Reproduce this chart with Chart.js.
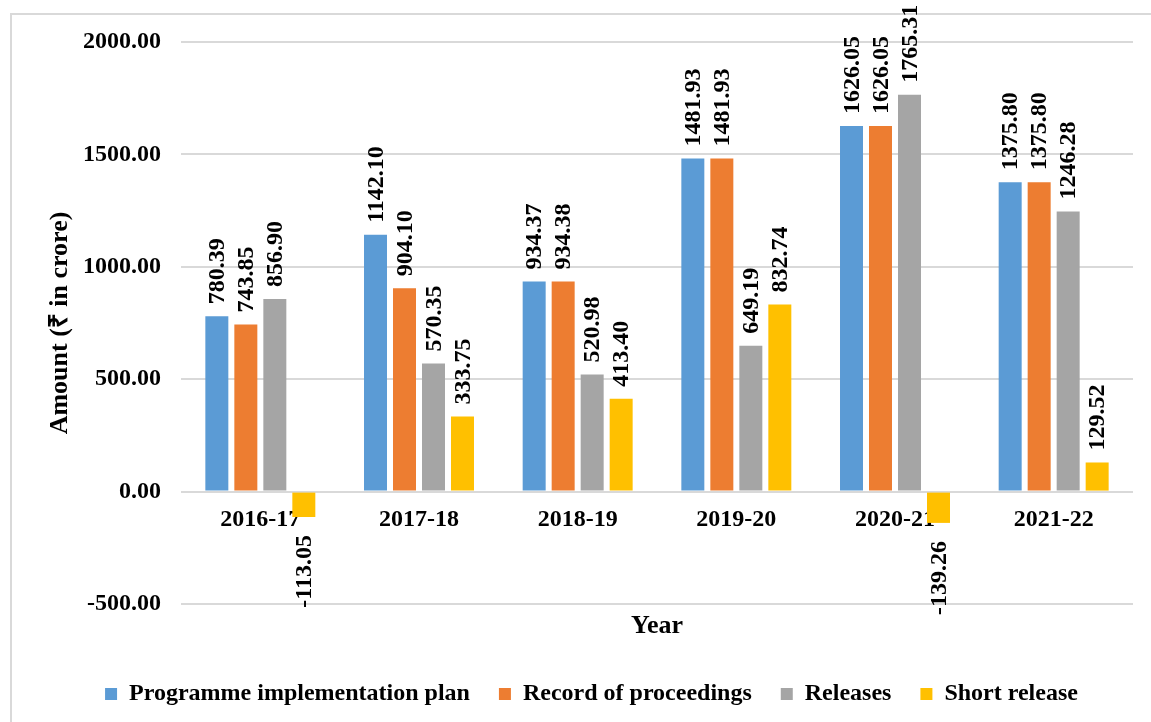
<!DOCTYPE html>
<html>
<head>
<meta charset="utf-8">
<script src="https://cdn.jsdelivr.net/npm/chart.js@4.4.1/dist/chart.umd.min.js"></script>
<style>
    html, body { margin: 0; padding: 0; background: #fff; overflow: hidden; }
    #wrap { position: relative; width: 1151px; height: 722px; overflow: hidden; }
    #frame { position: absolute; left: 10px; top: 13px; width: 1300px; height: 900px; border: 2px solid #d9d9d9; box-sizing: border-box; }
    #chart { position: absolute; left: 0; top: 0; }
</style>
</head>
<body>
<div id="wrap">
    <div id="frame"></div>
    <canvas id="chart" width="1151" height="722"></canvas>
</div>
<script>
// ========== DATA ==========
const years = ['2016-17', '2017-18', '2018-19', '2019-20', '2020-21', '2021-22'];
const implementationPlan = [780.39, 1142.10, 934.37, 1481.93, 1626.05, 1375.80];
const recordOfProceedings = [743.85, 904.10, 934.38, 1481.93, 1626.05, 1375.80];
const releases = [856.90, 570.35, 520.98, 649.19, 1765.31, 1246.28];
const shortRelease = [-113.05, 333.75, 413.40, 832.74, -139.26, 129.52];
const yTicks = [-500, 0, 500, 1000, 1500, 2000];

const serif = '"Liberation Serif", "Times New Roman", serif';

// value labels written vertically at the end of each bar
const barLabels = {
    id: 'barLabels',
    afterDatasetsDraw(chart) {
        const ctx = chart.ctx;
        ctx.save();
        ctx.font = 'bold 24px ' + serif;
        ctx.fillStyle = '#000';
        ctx.textBaseline = 'middle';
        chart.data.datasets.forEach((ds, i) => {
            const meta = chart.getDatasetMeta(i);
            meta.data.forEach((bar, j) => {
                const v = ds.data[j];
                const text = v.toFixed(2);
                ctx.save();
                if (v >= 0) {
                    ctx.translate(bar.x, bar.y - 12);
                    ctx.textAlign = 'left';
                } else {
                    ctx.translate(bar.x, bar.y + 18);
                    ctx.textAlign = 'right';
                }
                ctx.rotate(-Math.PI / 2);
                ctx.fillText(text, 0, 1);
                ctx.restore();
            });
        });
        ctx.restore();
    }
};

const ctx = document.getElementById('chart').getContext('2d');
new Chart(ctx, {
    type: 'bar',
    data: {
        labels: years,
        datasets: [
            { label: 'Programme implementation plan', data: implementationPlan, backgroundColor: '#5B9BD5' },
            { label: 'Record of proceedings', data: recordOfProceedings, backgroundColor: '#ED7D31' },
            { label: 'Releases', data: releases, backgroundColor: '#A5A5A5' },
            { label: 'Short release', data: shortRelease, backgroundColor: '#FFC000' }
        ]
    },
    options: {
        responsive: false,
        animation: false,
        devicePixelRatio: 1,
        categoryPercentage: 0.731,
        barPercentage: 0.793,
        layout: { padding: { left: 50, right: 18, top: 42, bottom: 6 } },
        plugins: {
            tooltip: { enabled: false },
            legend: {
                position: 'bottom',
                labels: {
                    boxWidth: 12,
                    boxHeight: 12,
                    padding: 29,
                    color: '#000',
                    font: { family: serif, size: 24, weight: 'bold' }
                }
            }
        },
        scales: {
            x: {
                position: { y: 0 },
                grid: { display: false, drawTicks: false },
                border: { display: false },
                ticks: {
                    color: '#000',
                    padding: 14,
                    maxRotation: 0,
                    font: { family: serif, size: 24, weight: 'bold' }
                }
            },
            xt: {
                type: 'category',
                position: 'bottom',
                labels: years,
                grid: { display: false, drawTicks: false },
                border: { display: false },
                ticks: { display: false },
                title: {
                    display: true,
                    text: 'Year',
                    color: '#000',
                    padding: { top: 0, bottom: 11 },
                    font: { family: serif, size: 26, weight: 'bold' }
                },
                afterFit(scale) { scale.height = 49; }
            },
            y: {
                min: -500,
                max: 2000,
                afterBuildTicks(scale) { scale.ticks = yTicks.map(v => ({ value: v })); },
                grid: { color: '#d9d9d9', lineWidth: 2, drawTicks: false },
                border: { display: false },
                ticks: {
                    color: '#000',
                    padding: 20,
                    font: { family: serif, size: 24, weight: 'bold' },
                    callback: v => v.toFixed(2)
                },
                title: {
                    display: true,
                    text: 'Amount (₹ in crore)',
                    color: '#000',
                    padding: { top: -5, bottom: 0 },
                    font: { family: serif, size: 26, weight: 'bold' }
                },
                afterFit(scale) { scale.width = 131; }
            }
        }
    },
    plugins: [barLabels]
});
</script>
</body>
</html>
